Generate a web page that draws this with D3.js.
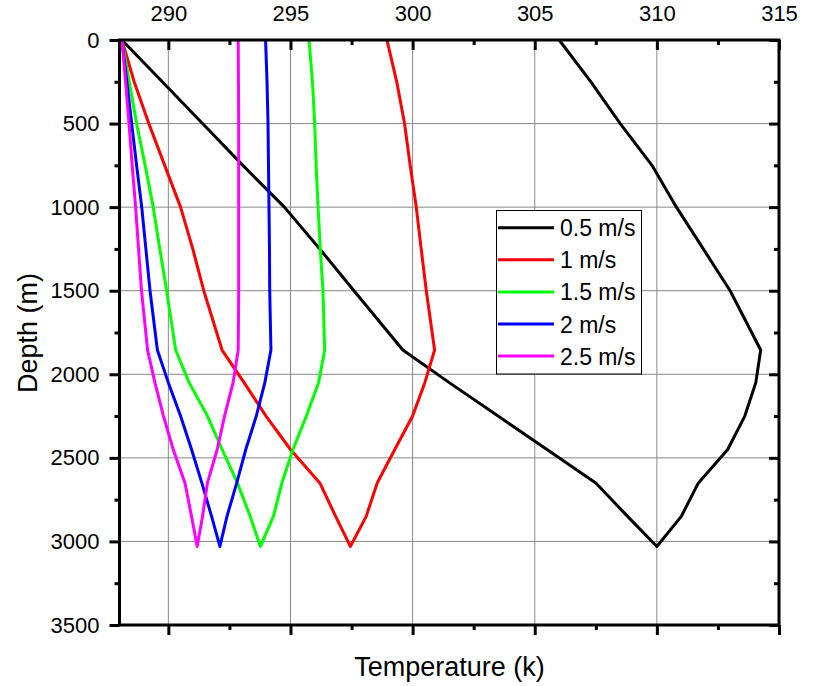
<!DOCTYPE html>
<html>
<head>
	<title></title>
	<style type="text/css">
		body{
			margin: 0;
			background-color: white;
		}
		svg text{
			font-family: Arial, "Liberation Sans", sans-serif;
			fill: black;
		}
	</style>
</head>
<body>
	<svg id="container" width="813" height="686">
		<g id="grid"></g>
		<g id="curves"></g>
		<g id="legend"></g>
		<g id="axes"></g>
	</svg>

<script src="https://cdn.jsdelivr.net/npm/d3@7"></script>
<script type="text/javascript">
	// depths (m) shared by every series, read top to bottom
	const depth = [0, 250, 500, 750, 1000, 1250, 1500, 1855, 2050, 2250, 2450, 2650, 2850, 3030]

	const speeds = ["0.5 m/s", "1 m/s", "1.5 m/s", "2 m/s", "2.5 m/s"]
	const colors = ["#000000", "#ff0000", "#00ff00", "#0000ff", "#ff00ff"]

	// temperature going down (inlet) and coming back up (outlet), same depth order
	const t05Down = [288.1, 289.75, 291.4, 293.05, 294.75, 296.2, 297.6, 299.6, 301.5, 303.5, 305.5, 307.5, 308.8, 310.0]
	const t05Up   = [306.0, 307.3, 308.5, 309.8, 310.8, 311.9, 313.0, 314.25, 314.05, 313.6, 312.9, 311.7, 311.0, 310.0]
	const t1Down  = [288.1, 288.6, 289.2, 289.85, 290.5, 291.0, 291.45, 292.2, 293.1, 294.0, 295.0, 296.2, 296.85, 297.45]
	const t1Up    = [298.95, 299.35, 299.67, 299.9, 300.15, 300.35, 300.56, 300.9, 300.5, 300.0, 299.27, 298.55, 298.1, 297.45]
	const t15Down = [288.1, 288.4, 288.7, 289.05, 289.38, 289.65, 289.93, 290.3, 290.85, 291.6, 292.2, 292.83, 293.35, 293.77]
	const t15Up   = [295.76, 295.9, 295.99, 296.05, 296.13, 296.22, 296.33, 296.4, 296.15, 295.65, 295.1, 294.65, 294.3, 293.77]
	const t2Down  = [288.1, 288.3, 288.5, 288.7, 288.91, 289.08, 289.25, 289.55, 290.0, 290.5, 290.95, 291.37, 291.77, 292.11]
	const t2Up    = [293.98, 294.04, 294.08, 294.1, 294.12, 294.14, 294.15, 294.2, 293.95, 293.6, 293.17, 292.8, 292.4, 292.11]
	const t25Down = [288.1, 288.25, 288.39, 288.52, 288.66, 288.78, 288.9, 289.15, 289.45, 289.8, 290.2, 290.68, 290.95, 291.18]
	const t25Up   = [292.86, 292.87, 292.88, 292.88, 292.88, 292.88, 292.88, 292.86, 292.65, 292.3, 292.0, 291.6, 291.4, 291.18]

	const xTicks = [290, 295, 300, 305, 310, 315]
	const xMinor = [292.5, 297.5, 302.5, 307.5, 312.5]
	const yTicks = [0, 500, 1000, 1500, 2000, 2500, 3000, 3500]
	const yMinor = [250, 750, 1250, 1750, 2250, 2750, 3250]

	let container = d3.select("#container")

	let x = d3.scaleLinear().domain([288, 315]).range([119.5, 779])
	let y = d3.scaleLinear().domain([0, 3500]).range([40, 625])

	// grid
	let grid = d3.select("#grid")
	grid.selectAll("line.gx")
		.data(xTicks.filter(d => d < 315))
		.enter().append("line")
		.attr("x1", d => x(d)).attr("x2", d => x(d))
		.attr("y1", y(0)).attr("y2", y(3500))
		.attr("stroke", "#888").attr("stroke-width", 1)
	grid.selectAll("line.gy")
		.data(yTicks.filter(d => d > 0 && d < 3500))
		.enter().append("line")
		.attr("x1", x(288)).attr("x2", x(315))
		.attr("y1", d => y(d)).attr("y2", d => y(d))
		.attr("stroke", "#888").attr("stroke-width", 1)

	// each series is a loop: down the well, then back up
	function loop(down, up) {
		let pts = depth.map((d, i) => [down[i], d])
		for (let i = depth.length - 2; i >= 0; i--) pts.push([up[i], depth[i]])
		return pts
	}
	let series = [
		loop(t05Down, t05Up),
		loop(t1Down, t1Up),
		loop(t15Down, t15Up),
		loop(t2Down, t2Up),
		loop(t25Down, t25Up)
	]

	let line = d3.line().x(d => x(d[0])).y(d => y(d[1]))

	d3.select("#curves").selectAll("path")
		.data(series)
		.enter().append("path")
		.attr("d", line)
		.attr("fill", "none")
		.attr("stroke", (d, i) => colors[i])
		.attr("stroke-width", 3)
		.attr("stroke-linejoin", "round")

	// legend
	let legend = d3.select("#legend")
	legend.append("rect")
		.attr("x", 496.5).attr("y", 210.5).attr("width", 145).attr("height", 163.5)
		.attr("fill", "white").attr("stroke", "black").attr("stroke-width", 1)
	let rows = legend.selectAll("g.row")
		.data(speeds)
		.enter().append("g")
		.attr("transform", (d, i) => "translate(0," + (227.7 + i * 32.1) + ")")
	rows.append("line")
		.attr("x1", 498).attr("x2", 554).attr("y1", 0).attr("y2", 0)
		.attr("stroke", (d, i) => colors[i]).attr("stroke-width", 3)
	rows.append("text")
		.attr("x", 560).attr("y", 8.5)
		.attr("font-size", "23px")
		.text(d => d)

	// axes, ticks all point left / down like the original
	let axes = d3.select("#axes")
	let axTop = axes.append("g").attr("transform", "translate(0," + y(0) + ")")
		.call(d3.axisTop(x).tickValues(xTicks).tickSizeInner(-10).tickSizeOuter(0).tickPadding(19).tickFormat(d3.format("d")))
	axTop.append("g").call(d3.axisTop(x).tickValues(xMinor).tickSize(-5).tickFormat(""))

	let axBottom = axes.append("g").attr("transform", "translate(0," + y(3500) + ")")
		.call(d3.axisBottom(x).tickValues(xTicks).tickSize(10).tickFormat(""))
	axBottom.append("g").call(d3.axisBottom(x).tickValues(xMinor).tickSize(5).tickFormat(""))

	let axLeft = axes.append("g").attr("transform", "translate(" + x(288) + ",0)")
		.call(d3.axisLeft(y).tickValues(yTicks).tickSize(10).tickPadding(10).tickFormat(d3.format("d")))
	axLeft.append("g").call(d3.axisLeft(y).tickValues(yMinor).tickSize(5).tickFormat(""))

	let axRight = axes.append("g").attr("transform", "translate(" + x(315) + ",0)")
		.call(d3.axisRight(y).tickValues(yTicks).tickSize(-10).tickFormat(""))
	axRight.append("g").call(d3.axisRight(y).tickValues(yMinor).tickSize(-5).tickFormat(""))

	axes.selectAll(".domain").remove()
	axes.selectAll(".tick line").attr("stroke", "black").attr("stroke-width", 3)
	axes.selectAll("g").attr("font-family", null)
	axes.selectAll(".tick text").attr("font-size", "22px").attr("fill", "black")

	axes.append("rect")
		.attr("x", x(288)).attr("y", y(0))
		.attr("width", x(315) - x(288)).attr("height", y(3500) - y(0))
		.attr("fill", "none").attr("stroke", "black").attr("stroke-width", 3)

	container.append("text").text("Temperature (k)")
		.attr("text-anchor", "middle").attr("font-size", "27px")
		.attr("x", 449.5).attr("y", 676)
	container.append("text").text("Depth (m)")
		.attr("text-anchor", "middle").attr("font-size", "27px")
		.attr("transform", "translate(37,333) rotate(-90)")
</script>
</body>
</html>
